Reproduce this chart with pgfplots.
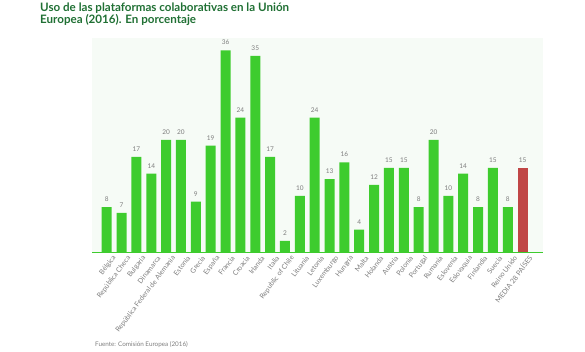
\documentclass[border=0pt]{standalone}
\usepackage{pgfplots}
\pgfplotsset{compat=1.18}
\usepackage{fontspec}
\setmainfont{Lato}
\definecolor{barg}{RGB}{62,204,46}
\definecolor{barr}{RGB}{192,70,70}
\definecolor{titg}{RGB}{32,112,52}
\definecolor{bgc}{RGB}{246,251,246}
\definecolor{lab}{RGB}{125,125,125}
\begin{document}
\begin{tikzpicture}[x=1pt,y=1pt]
\path[use as bounding box] (0,0) rectangle (585,351);
\node[anchor=north west, align=left, text=titg, font=\fontsize{11.6}{12}\selectfont\bfseries, inner sep=0pt] at (40,348)
{Uso de las plataformas colaborativas en la Unión\\Europea (2016). En porcentaje};
\node[anchor=west, text=lab, font=\fontsize{6.3}{7}\selectfont, inner sep=0pt] at (95,6) {Fuente: Comisión Europea (2016)};
\begin{axis}[
  at={(92pt,99pt)}, anchor=south west,
  scale only axis, width=451pt, height=214pt,
  xmin=-0.99, xmax=29.37, ymin=0, ymax=38.2,
  axis background/.style={fill=bgc},
  axis y line=none,
  axis x line*=bottom,
  x axis line style={draw=barg, line width=0.8pt, -},
  xtick={0,...,28},
  major tick length=0pt,
  xticklabels={Bélgica,República Checa,Bulgaria,Dinamarca,República Federal de Alemania,Estonia,Grecia,España,Francia,Croacia,Irlanda,Italia,Republic of Chile,Lituania,Letonia,Luxemburgo,Hungría,Malta,Holanda,Austria,Polonia,Portugal,Rumanía,Eslovenia,Eslovaquia,Finlandia,Suecia,Reino Unido,MEDIA 28 PAÍSES},
  xticklabel style={rotate=53, anchor=east, text=lab, font=\fontsize{7}{8}\selectfont, inner sep=0pt, xshift=1pt, yshift=-9pt},
  /pgf/number format/assume math mode=true,
  ybar, bar width=10pt, bar shift=0pt,
  nodes near coords,
  every node near coord/.append style={text=lab, font=\fontsize{6.5}{7}\selectfont, yshift=2pt},
  clip=false,
]
\addplot[fill=barg, draw=none] coordinates {
(0,8) (1,7) (2,17) (3,14) (4,20) (5,20) (6,9) (7,19) (8,36) (9,24)
(10,35) (11,17) (12,2) (13,10) (14,24) (15,13) (16,16) (17,4) (18,12) (19,15)
(20,15) (21,8) (22,20) (23,10) (24,14) (25,8) (26,15) (27,8)};
\addplot[fill=barr, draw=none] coordinates {(28,15)};
\end{axis}
\end{tikzpicture}
\end{document}
